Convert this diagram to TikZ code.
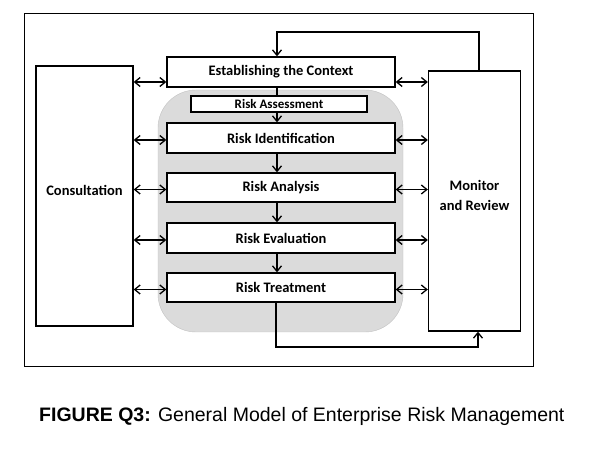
\documentclass[tikz,border=0pt]{standalone}
\usepackage{fontspec}
\setmainfont{Carlito}
\newfontfamily\capfont{Liberation Sans}
\usetikzlibrary{arrows.meta}

\begin{document}
\begin{tikzpicture}[x=1pt,y=-1pt,
    >={Straight Barb[length=5.5pt,width=9pt,line width=1.3pt]},
    stage/.style={draw, line width=1.3pt, fill=white, inner sep=0pt,
      minimum width=228pt, minimum height=30pt, font=\bfseries\fontsize{14.5}{16}\selectfont},
    side/.style={draw, line width=1.3pt, fill=white, inner sep=0pt,
      minimum height=260pt},
    sidetext/.style={font=\bfseries\fontsize{14.5}{20}\selectfont, align=center, yshift=6pt},
    link/.style={line width=1.2pt},
  ]
  \useasboundingbox (0,0) rectangle (614,449);
  \draw[line width=1pt] (24,14) rectangle (533,367);
  % shaded risk assessment area
  \draw[fill=black!14, draw=black!24, rounded corners=38pt] (158,90) rectangle (403,332);

  \node[side, minimum width=97pt, label={[sidetext]center:Consultation}] (cons) at (84.5,196) {};
  \node[side, minimum width=92pt, label={[sidetext]center:Monitor\\and Review}] (mon) at (474.5,201) {};

  \node[stage] (ctx) at (281,72) {Establishing the Context};
  \node[stage, minimum width=176pt, minimum height=16pt, font=\bfseries\fontsize{13}{14}\selectfont] (ass) at (279,104) {Risk Assessment};
  \node[stage] (iden) at (281,138) {Risk Identification};
  \node[stage, minimum height=29pt] (ana) at (281,187.5) {Risk Analysis};
  \node[stage] (eva) at (281,238) {Risk Evaluation};
  \node[stage, minimum height=29pt] (tre) at (281,287.5) {Risk Treatment};

  \coordinate (top) at (277,32);
  \coordinate (bot) at (276,347);

  \draw[link] (ctx.south -| top) -- (ass.north -| top);
  \draw[link, ->] (ass.south -| top) -- (iden.north -| top);
  \draw[link, ->] (iden.south -| top) -- (ana.north -| top);
  \draw[link, ->] (ana.south -| top) -- (eva.north -| top);
  \draw[link, ->] (eva.south -| top) -- (tre.north -| top);

  \draw[link, ->] (mon.north -| 479,0) |- (top) -- (ctx.north -| top);
  \draw[link, ->] (tre.south -| bot) -- (bot) -| (mon.south -| 478,0);

  \draw[link, <->] ([yshift=-10pt]ctx.west -| cons.east) -- ([yshift=-10pt]ctx.west);
  \draw[link, <->] ([yshift=-10pt]ctx.east) -- ([yshift=-10pt]ctx.east -| mon.west);
  \foreach \s in {iden,ana,eva,tre}{
    \draw[link, <->] ([yshift=-2pt]\s.west -| cons.east) -- ([yshift=-2pt]\s.west);
    \draw[link, <->] ([yshift=-2pt]\s.east) -- ([yshift=-2pt]\s.east -| mon.west);
  }

  \node[anchor=base west, font=\capfont\fontsize{19.5}{22}\selectfont, inner sep=0pt] (cap) at (39,422)
    {\textbf{FIGURE Q3:} General Model of Enterprise Risk Management};
\end{tikzpicture}
\end{document}
